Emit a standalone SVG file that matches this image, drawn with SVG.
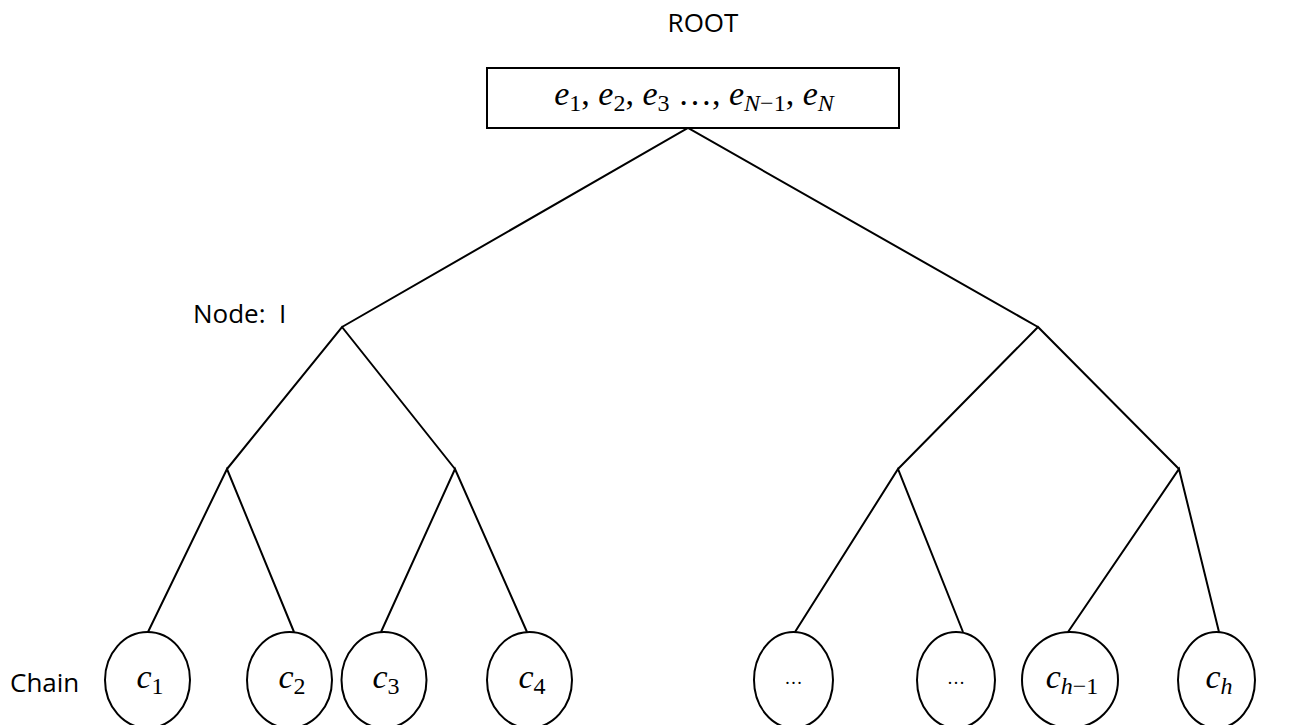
<svg xmlns="http://www.w3.org/2000/svg" width="1310" height="725" viewBox="0 0 1310 725">
  <style>
    .edge { stroke: #000; stroke-width: 2; fill: none; }
    .shape { stroke: #000; stroke-width: 2; fill: #fff; }
    .label { font-family: "Open Sans", "Liberation Sans", sans-serif; font-size: 26px; fill: #000; }
    .math { font-family: "Liberation Serif", "DejaVu Serif", serif; font-size: 34px; fill: #000; }
    .it { font-style: italic; }
    .sub { font-size: 24px; font-style: normal; }
    .subi { font-size: 24px; font-style: italic; }
    .dots { font-family: "Liberation Serif", serif; font-size: 18px; fill: #000; }
  </style>

  <rect width="1310" height="725" fill="#fff"/>

  <!-- tree edges -->
  <g id="connectors">
    <polyline class="edge" points="342,327 688,128 1038,327"/>
    <polyline class="edge" points="227,469 342,327 455,469"/>
    <polyline class="edge" points="898,469 1038,327 1179,469"/>
    <polyline class="edge" points="148,632 227,469 294,632"/>
    <polyline class="edge" points="381,632 455,469 527,632"/>
    <polyline class="edge" points="795,632 898,469 963,632"/>
    <polyline class="edge" points="1068,632 1179,469 1219,632"/>
  </g>

  <!-- root -->
  <g id="root">
    <text class="label" x="703" y="32" text-anchor="middle">ROOT</text>
    <rect class="shape" x="487" y="68" width="412" height="60"/>
    <text class="math" x="694" y="105" text-anchor="middle" xml:space="preserve"><tspan class="it">e</tspan><tspan class="sub" dy="6">1</tspan><tspan dy="-6">, </tspan><tspan class="it">e</tspan><tspan class="sub" dy="6">2</tspan><tspan dy="-6">, </tspan><tspan class="it">e</tspan><tspan class="sub" dy="6">3</tspan><tspan dy="-6"> …, </tspan><tspan class="it">e</tspan><tspan class="subi" dy="6">N</tspan><tspan class="sub">−1</tspan><tspan dy="-6">, </tspan><tspan class="it">e</tspan><tspan class="subi" dy="6">N</tspan></text>
  </g>

  <!-- internal node label -->
  <g id="node-l">
    <text class="label" x="193" y="323" xml:space="preserve">Node:  I</text>
  </g>

  <!-- chain row -->
  <g id="chain-label">
    <text class="label" x="10" y="692">Chain</text>
  </g>

  <g id="leaf-c1">
    <ellipse class="shape" cx="147.5" cy="680" rx="42.5" ry="48"/>
    <text class="math" x="150" y="688" text-anchor="middle"><tspan class="it">c</tspan><tspan class="sub" dy="6">1</tspan></text>
  </g>
  <g id="leaf-c2">
    <ellipse class="shape" cx="289.5" cy="680" rx="42.5" ry="48"/>
    <text class="math" x="292" y="688" text-anchor="middle"><tspan class="it">c</tspan><tspan class="sub" dy="6">2</tspan></text>
  </g>
  <g id="leaf-c3">
    <ellipse class="shape" cx="384" cy="680" rx="42.5" ry="48"/>
    <text class="math" x="386" y="688" text-anchor="middle"><tspan class="it">c</tspan><tspan class="sub" dy="6">3</tspan></text>
  </g>
  <g id="leaf-c4">
    <ellipse class="shape" cx="529.5" cy="680" rx="42.5" ry="48"/>
    <text class="math" x="532" y="688" text-anchor="middle"><tspan class="it">c</tspan><tspan class="sub" dy="6">4</tspan></text>
  </g>
  <g id="leaf-dots1">
    <ellipse class="shape" cx="793.5" cy="680" rx="39.5" ry="48"/>
    <text class="dots" x="793.5" y="684" text-anchor="middle">…</text>
  </g>
  <g id="leaf-dots2">
    <ellipse class="shape" cx="956" cy="680" rx="39" ry="48"/>
    <text class="dots" x="956" y="684" text-anchor="middle">…</text>
  </g>
  <g id="leaf-ch-1">
    <ellipse class="shape" cx="1070" cy="680" rx="48" ry="48"/>
    <text class="math" x="1072" y="688" text-anchor="middle"><tspan class="it">c</tspan><tspan class="subi" dy="6">h</tspan><tspan class="sub">−1</tspan></text>
  </g>
  <g id="leaf-ch">
    <ellipse class="shape" cx="1216.5" cy="680" rx="38.5" ry="48"/>
    <text class="math" x="1219" y="688" text-anchor="middle"><tspan class="it">c</tspan><tspan class="subi" dy="6">h</tspan></text>
  </g>
</svg>
